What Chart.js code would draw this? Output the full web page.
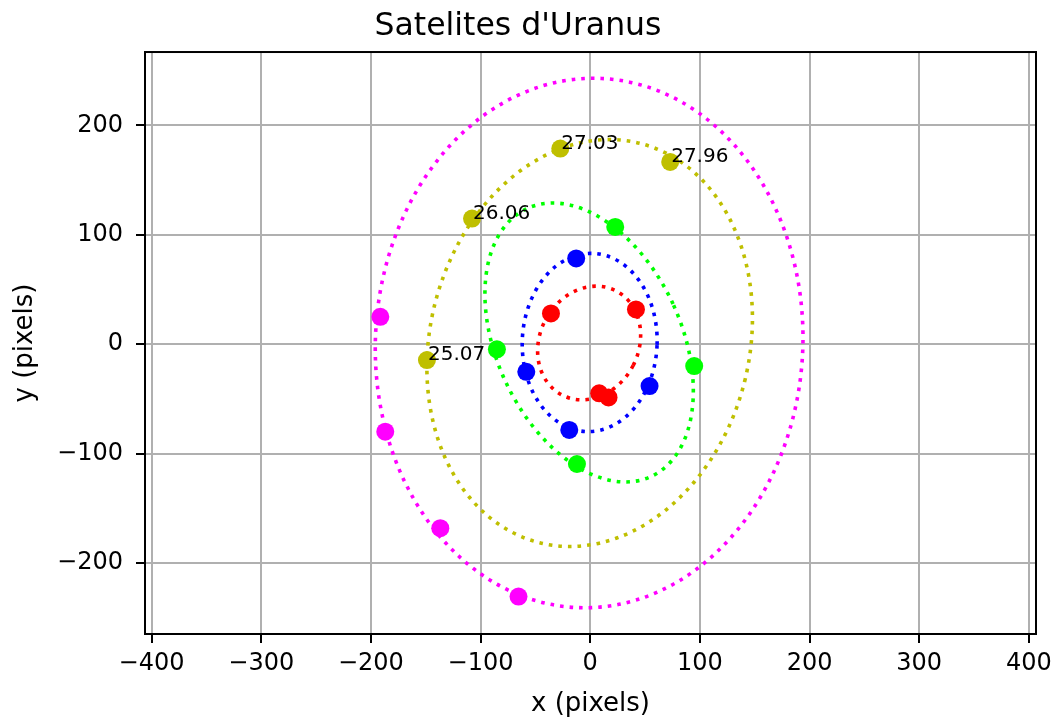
<!DOCTYPE html>
<html>
<head>
<meta charset="utf-8">
<script src="https://cdn.jsdelivr.net/npm/chart.js@4.4.1/dist/chart.umd.min.js"></script>
<style>
  html, body { margin: 0; padding: 0; background: #fff; }
</style>
</head>
<body>
<canvas id="chart" width="1056" height="720"></canvas>
<script>
// Posicions dels satel·lits (pixels)
const magentaX = [-191.4, -186.9, -136.7, -65.4];
const magentaY = [24.9, -80.1, -168.3, -230.8];
const yellowX = [-27.3, 72.9, -107.8, -148.9];
const yellowY = [178.7, 166.5, 114.8, -14.6];
const yellowLabels = ['27.03', '27.96', '26.06', '25.07'];
const greenX = [22.8, -85.1, 94.8, -12.1];
const greenY = [107.1, -4.8, -20.1, -109.6];
const blueX = [-12.8, -58.3, 54.1, -19.1];
const blueY = [78.3, -25.3, -38.4, -78.5];
const redX = [-35.8, 41.7, 8.2, 16.7];
const redY = [28.0, 31.7, -45.0, -48.7];

// Orbites ajustades (centre, semieixos, rotacio en graus)
const orbitNames = ['red', 'blue', 'green', 'yellow', 'magenta'];
const orbitCx = [-1, -0.5, -1, -0.5, -1];
const orbitCy = [1, 1.5, 1.5, 1, 1];
const orbitA = [45.1, 61.5, 84.2, 145.6, 194.9];
const orbitB = [53.6, 81.5, 134.9, 188.2, 242.1];
const orbitRot = [-27, -2, 24.7, -14, -2.7];

// Eixos
const xTicks = [-400, -300, -200, -100, 0, 100, 200, 300, 400];
const xTickLabels = ['\u2212400', '\u2212300', '\u2212200', '\u2212100', '0', '100', '200', '300', '400'];
const yTicks = [-200, -100, 0, 100, 200];
const yTickLabels = ['\u2212200', '\u2212100', '0', '100', '200'];

const colors = {
    red: '#ff0000',
    blue: '#0000ff',
    green: '#00ff00',
    yellow: '#bfbf00',
    magenta: '#ff00ff'
};
const FONT = "'DejaVu Sans', sans-serif";

function pts(xs, ys) {
    return xs.map((x, i) => ({ x: x, y: ys[i] }));
}

function dataset(xs, ys, color) {
    return {
        data: pts(xs, ys),
        showLine: false,
        pointRadius: 9,
        pointHoverRadius: 9,
        pointBackgroundColor: color,
        pointBorderColor: color,
        pointBorderWidth: 0
    };
}

// Dibuixa les orbites amb linia de punts
const orbitPlugin = {
    id: 'orbits',
    beforeDatasetsDraw(chart) {
        const { ctx, chartArea, scales: { x, y } } = chart;
        const kx = x.getPixelForValue(1) - x.getPixelForValue(0);
        const ky = y.getPixelForValue(0) - y.getPixelForValue(1);
        ctx.save();
        ctx.beginPath();
        ctx.rect(chartArea.left, chartArea.top, chartArea.width, chartArea.height);
        ctx.clip();
        orbitNames.forEach((name, i) => {
            ctx.save();
            ctx.translate(x.getPixelForValue(orbitCx[i]), y.getPixelForValue(orbitCy[i]));
            ctx.scale(kx, -ky);
            ctx.beginPath();
            ctx.ellipse(0, 0, orbitA[i], orbitB[i], orbitRot[i] * Math.PI / 180, 0, Math.PI * 2);
            ctx.restore();
            ctx.strokeStyle = colors[name];
            ctx.lineWidth = 3.6;
            ctx.lineCap = 'butt';
            ctx.setLineDash([3.6, 6]);
            ctx.stroke();
        });
        ctx.restore();
    },
    afterDatasetsDraw(chart) {
        const { ctx, scales: { x, y } } = chart;
        ctx.save();
        ctx.fillStyle = '#000';
        ctx.font = '20px ' + FONT;
        ctx.textAlign = 'left';
        ctx.textBaseline = 'alphabetic';
        yellowLabels.forEach((txt, i) => {
            ctx.fillText(txt, x.getPixelForValue(yellowX[i]) + 1, y.getPixelForValue(yellowY[i]));
        });
        ctx.restore();
    },
    afterDraw(chart) {
        const { ctx, chartArea } = chart;
        ctx.save();
        ctx.strokeStyle = '#000';
        ctx.lineWidth = 2;
        ctx.strokeRect(chartArea.left, chartArea.top, chartArea.width, chartArea.height);
        ctx.restore();
    }
};

const ctx = document.getElementById('chart').getContext('2d');
new Chart(ctx, {
    type: 'scatter',
    data: {
        datasets: [
            dataset(magentaX, magentaY, colors.magenta),
            dataset(yellowX, yellowY, colors.yellow),
            dataset(greenX, greenY, colors.green),
            dataset(blueX, blueY, colors.blue),
            dataset(redX, redY, colors.red)
        ]
    },
    options: {
        responsive: false,
        animation: false,
        layout: { padding: { left: 0, right: 20, top: 0, bottom: 0 } },
        plugins: {
            legend: { display: false },
            tooltip: { enabled: false },
            title: {
                display: true,
                text: "Satelites d'Uranus",
                color: '#000',
                font: { family: FONT, size: 31.5, weight: 'normal', lineHeight: 1.15 },
                padding: { top: 9, bottom: 6.8 }
            }
        },
        scales: {
            x: {
                type: 'linear',
                min: -406,
                max: 406.5,
                afterBuildTicks: (s) => { s.ticks = xTicks.map(v => ({ value: v })); },
                afterFit: (s) => { s.height = 86; s.paddingLeft = 0; s.paddingRight = 0; },
                grid: { color: '#b0b0b0', lineWidth: 2, tickColor: '#000', tickWidth: 2, tickLength: 9 },
                border: { display: false },
                ticks: {
                    color: '#000',
                    padding: 6,
                    maxRotation: 0,
                    font: { family: FONT, size: 24 },
                    callback: (v) => xTickLabels[xTicks.indexOf(v)]
                },
                title: {
                    display: true,
                    text: 'x (pixels)',
                    color: '#000',
                    font: { family: FONT, size: 26 },
                    padding: { top: 0, bottom: 0 }
                }
            },
            y: {
                type: 'linear',
                min: -265,
                max: 267,
                afterBuildTicks: (s) => { s.ticks = yTicks.map(v => ({ value: v })); },
                afterFit: (s) => { s.width = 145; s.paddingTop = 0; s.paddingBottom = 0; },
                grid: { color: '#b0b0b0', lineWidth: 2, tickColor: '#000', tickWidth: 2, tickLength: 9 },
                border: { display: false },
                ticks: {
                    color: '#000',
                    padding: 13,
                    font: { family: FONT, size: 24 },
                    callback: (v) => yTickLabels[yTicks.indexOf(v)]
                },
                title: {
                    display: true,
                    text: 'y (pixels)',
                    color: '#000',
                    font: { family: FONT, size: 26 },
                    padding: { top: 10, bottom: 0 }
                }
            }
        }
    },
    plugins: [orbitPlugin]
});
</script>
</body>
</html>
